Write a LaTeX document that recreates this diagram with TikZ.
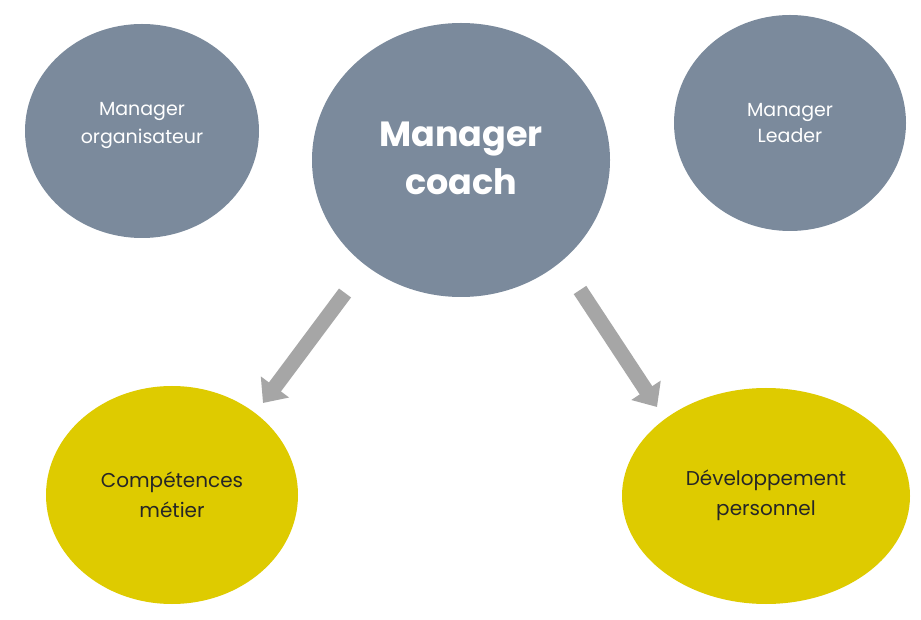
\documentclass[tikz,border=0pt]{standalone}
\usepackage{fontspec}
\setmainfont{Poppins}
\usetikzlibrary{arrows.meta}
\definecolor{slate}{HTML}{7B8A9C}
\definecolor{mustard}{HTML}{DECB00}
\definecolor{arrowgray}{HTML}{A6A6A6}
\definecolor{txt}{HTML}{262626}
\tikzset{
  bub/.style={ellipse,fill=slate,inner sep=0pt,minimum width=#1},
  gbub/.style={circle,fill=slate,text=white,align=center,font=\fontsize{19}{23}\selectfont},
  ybub/.style={fill=mustard,text=txt,align=center,font=\fontsize{20}{28}\selectfont},
  blockarrow/.style={draw=arrowgray,line width=15pt,-{Triangle[width=34pt,length=20pt]}}
}
\begin{document}
\begin{tikzpicture}[x=1pt,y=1pt]
\useasboundingbox[fill=white] (0,0) rectangle (921,619);
\fill[slate] (142,488) ellipse [x radius=117,y radius=107];
\node[text=white,align=center,font=\fontsize{19}{28}\selectfont] (org) at (142,494) {Manager\\organisateur};
\fill[slate] (461,459) ellipse [x radius=149,y radius=137];
\node[text=white,align=center,font=\bfseries\fontsize{35}{48}\selectfont] (coach) at (461,461) {Manager\\coach};
\fill[slate] (790,496) ellipse [x radius=116,y radius=108];
\node[text=white,align=center,font=\fontsize{19}{26}\selectfont] (lead) at (790,496) {Manager\\Leader};
\fill[mustard] (172,124) ellipse [x radius=126,y radius=109];
\node[text=txt,align=center,font=\fontsize{20}{30}\selectfont] (comp) at (172,124) {Compétences\\métier};
\fill[mustard] (766,123) ellipse [x radius=144,y radius=108];
\node[text=txt,align=center,font=\fontsize{20}{30}\selectfont] (dev) at (766,124) {Développement\\personnel};
\coordinate (a1s) at (345,326);
\coordinate (a1e) at (263,216);
\coordinate (a2s) at (580,329);
\coordinate (a2e) at (657,212);
\draw[blockarrow] (a1s) -- (a1e);
\draw[blockarrow] (a2s) -- (a2e);
\end{tikzpicture}
\end{document}
